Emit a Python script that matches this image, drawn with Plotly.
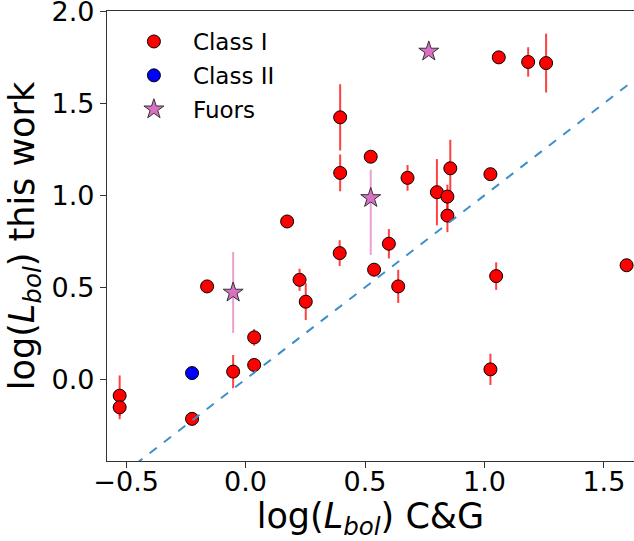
import plotly.graph_objects as go

# Class I
c1_x = [-0.527, -0.527, -0.224, -0.161, -0.052, 0.036, 0.036, 0.174, 0.226, 0.252,
        0.394, 0.396, 0.396, 0.524, 0.538, 0.600, 0.639, 0.678, 0.801, 0.845,
        0.845, 0.857, 1.025, 1.025, 1.049, 1.060, 1.183, 1.258, 1.595]
c1_y = [-0.089, -0.152, -0.215, 0.505, 0.042, 0.228, 0.078, 0.858, 0.541, 0.422,
        0.686, 1.424, 1.122, 1.210, 0.596, 0.737, 0.505, 1.095, 1.017, 0.993,
        0.890, 1.147, 1.115, 0.054, 0.561, 1.750, 1.725, 1.719, 0.620]
c1_err = [0.11, 0.065, 0.0, 0.0, 0.09, 0.045, 0.0, 0.0, 0.06, 0.10,
          0.07, 0.18, 0.10, 0.0, 0.0, 0.08, 0.09, 0.07, 0.18, 0.065,
          0.09, 0.155, 0.0, 0.085, 0.075, 0.0, 0.08, 0.16, 0.0]

# Class II
c2_x = [-0.224]
c2_y = [0.034]

# Fuors
fu_x = [-0.052, 0.524, 0.767]
fu_y = [0.472, 0.986, 1.782]
fu_err_plus = [0.22, 0.154, 0.0]
fu_err_minus = [0.22, 0.31, 0.0]

# one-to-one line
line_x = [-0.7, 1.8]
line_y = [-0.7, 1.8]

font = "DejaVu Sans, Liberation Sans, sans-serif"

fig = go.Figure()

fig.add_trace(go.Scatter(
    x=c1_x, y=c1_y, mode="markers", name="Class I", legendgroup="a",
    marker=dict(symbol="circle", size=13, color="#ff0000", line=dict(color="black", width=1)),
    error_y=dict(type="data", array=c1_err, color="rgba(255,0,0,0.75)", thickness=2, width=0),
))
fig.add_trace(go.Scatter(
    x=c2_x, y=c2_y, mode="markers", name="Class II", legendgroup="b",
    marker=dict(symbol="circle", size=13, color="#0000ff", line=dict(color="black", width=1)),
))
fig.add_trace(go.Scatter(
    x=fu_x, y=fu_y, mode="markers", name="Fuors", legendgroup="c",
    marker=dict(symbol="star", size=15, color="#da70c6", line=dict(color="#333333", width=1)),
    error_y=dict(type="data", symmetric=False, array=fu_err_plus, arrayminus=fu_err_minus,
                 color="rgba(227,119,194,0.7)", thickness=2, width=0),
))
fig.add_trace(go.Scatter(
    x=line_x, y=line_y, mode="lines", showlegend=False, hoverinfo="skip",
    line=dict(color="#3d8fc9", width=2, dash="dash"),
))

fig.update_layout(
    width=634, height=541,
    margin=dict(l=107, r=0, t=11, b=80),
    plot_bgcolor="white", paper_bgcolor="white",
    font=dict(family=font, color="black"),
    legend=dict(x=0.015, y=0.98, xanchor="left", yanchor="top",
                font=dict(size=23, family=font), bgcolor="rgba(0,0,0,0)",
                tracegroupgap=1, itemwidth=68),
    showlegend=True,
)
fig.update_xaxes(
    range=[-0.58, 1.626], tickvals=[-0.5, 0.0, 0.5, 1.0, 1.5],
    ticktext=["\u22120.5", "0.0", "0.5", "1.0", "1.5"],
    showgrid=False, zeroline=False, showline=True, linecolor="#333333", linewidth=1.2,
    mirror=True, ticks="outside", ticklen=6, tickcolor="#333333",
    tickfont=dict(size=27, family=font), ticklabelstandoff=-10, automargin=False,
    title=dict(text="log(<i>L</i><sub><i>bol</i></sub>) C&G", font=dict(size=35, family=font), standoff=8),
)
fig.update_yaxes(
    range=[-0.444, 2.002], tickvals=[0.0, 0.5, 1.0, 1.5, 2.0],
    ticktext=["0.0", "0.5", "1.0", "1.5", "2.0"],
    showgrid=False, zeroline=False, showline=True, linecolor="#333333", linewidth=1.2,
    mirror=False, ticks="outside", ticklen=6, tickcolor="#333333",
    tickfont=dict(size=27, family=font), ticklabeloverflow="allow", automargin=False,
    title=dict(text="log(<i>L</i><sub><i>bol</i></sub>) this work", font=dict(size=35, family=font), standoff=6),
)

fig.write_html("out.html")
